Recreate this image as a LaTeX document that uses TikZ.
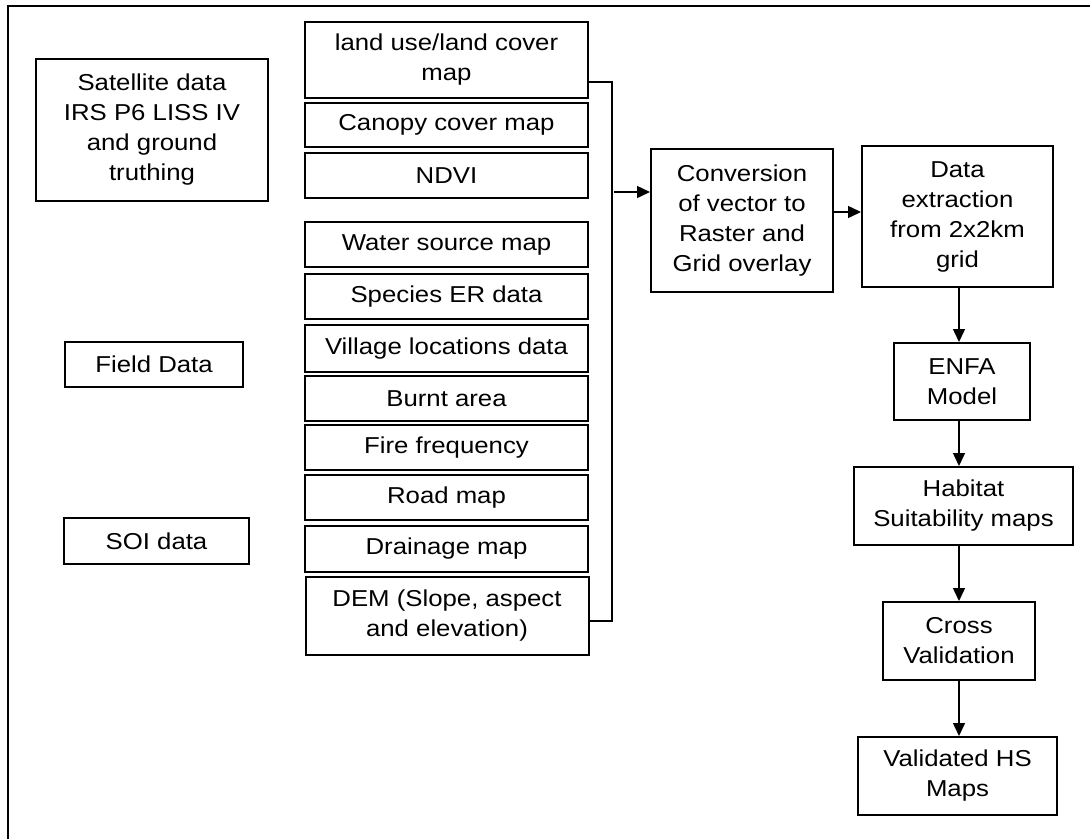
\documentclass[tikz,border=0pt]{standalone}
\usepackage{fontspec}
\setmainfont{Liberation Sans}[FakeStretch=1.12]
\usepackage{tikz}
\usetikzlibrary{arrows.meta,positioning,calc}

\tikzset{
  box/.style={draw,line width=2pt,inner sep=0pt,align=center,
    font=\fontsize{23}{30}\selectfont},
  arr/.style={line width=1.5pt,-{Triangle[length=13pt,width=12pt]}},
}

\begin{document}
\begin{tikzpicture}[x=1pt,y=-1pt]
\useasboundingbox (0,0) rectangle (1090,839);
\draw[line width=2.3pt] (8,839) -- (8,6) -- (1090,6);

% sources
\node[box,minimum width=232pt,minimum height=142pt] (sat) at (152,130)
  {Satellite data\\IRS P6 LISS IV\\and ground\\truthing};
\node[box,minimum width=178pt,minimum height=45pt] (field) at (154,364.5) {Field Data};
\node[box,minimum width=185pt,minimum height=46pt] (soi) at (156.5,541) {SOI data};

% thematic layers
\node[box,minimum width=283pt,minimum height=76pt] (luc) at (446.5,60) {land use/land cover\\map};
\node[box,minimum width=283pt,minimum height=44pt] (canopy) at (446.5,125) {Canopy cover map};
\node[box,minimum width=283pt,minimum height=45pt] (ndvi) at (446.5,175.5) {NDVI};
\node[box,minimum width=283pt,minimum height=45pt] (water) at (446.5,244.5) {Water source map};
\node[box,minimum width=283pt,minimum height=45pt] (species) at (446.5,296.5) {Species ER data};
\node[box,minimum width=283pt,minimum height=47pt] (village) at (446.5,348.5) {Village locations data};
\node[box,minimum width=283pt,minimum height=45pt] (burnt) at (446.5,398.5) {Burnt area};
\node[box,minimum width=283pt,minimum height=45pt] (fire) at (446.5,447.5) {Fire frequency};
\node[box,minimum width=283pt,minimum height=45pt] (road) at (446.5,497.5) {Road map};
\node[box,minimum width=283pt,minimum height=46pt] (drain) at (446.5,549) {Drainage map};
\node[box,minimum width=283pt,minimum height=78pt] (dem) at (447,616) {DEM (Slope, aspect\\and elevation)};

% processing chain
\node[box,minimum width=182pt,minimum height=143pt] (conv) at (742,220.5)
  {Conversion\\of vector to\\Raster and\\Grid overlay};
\node[box,minimum width=191pt,minimum height=141pt] (data) at (957.5,216.5)
  {Data\\extraction\\from 2x2km\\grid};
\node[box,minimum width=136pt,minimum height=77pt] (enfa) at (962,381.5) {ENFA\\Model};
\node[box,minimum width=219pt,minimum height=78pt] (habitat) at (963.5,506) {Habitat\\Suitability maps};
\node[box,minimum width=152pt,minimum height=78pt] (cross) at (959,641) {Cross\\Validation};
\node[box,minimum width=199pt,minimum height=78pt] (valid) at (957.5,776) {Validated HS\\Maps};

% bracket
\coordinate (brtop) at (612,82);
\coordinate (brbot) at (612,621);
\coordinate (brout) at (614,192);
\coordinate (chain) at (959,0);
\draw[line width=1.5pt] (luc.east |- brtop) -- (brtop) -- (brbot) -- (dem.east |- brbot);
\draw[arr] (brout) -- (conv.west |- brout);
\draw[arr] (conv.east |- 0,212) -- (data.west |- 0,212);
\draw[arr] (chain |- data.south) -- (chain |- enfa.north);
\draw[arr] (chain |- enfa.south) -- (chain |- habitat.north);
\draw[arr] (chain |- habitat.south) -- (chain |- cross.north);
\draw[arr] (chain |- cross.south) -- (chain |- valid.north);
\end{tikzpicture}
\end{document}
